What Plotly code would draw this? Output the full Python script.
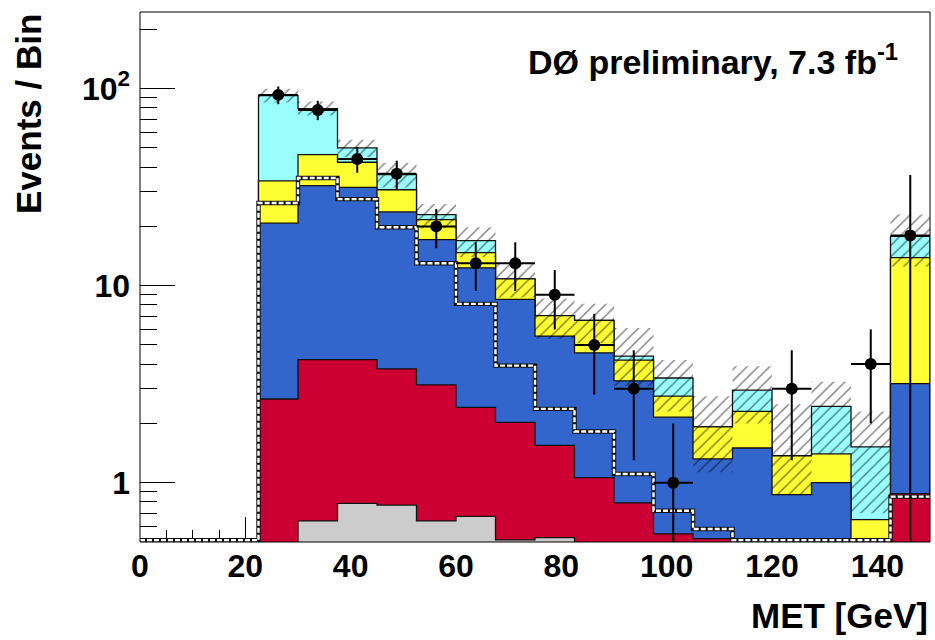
import math
import plotly.graph_objects as go

# ---------------- data ----------------
bin_edges = [22.5, 30, 37.5, 45, 52.5, 60, 67.5, 75, 82.5, 90, 97.5,
             105, 112.5, 120, 127.5, 135, 142.5, 150]
bin_centers = [26.25, 33.75, 41.25, 48.75, 56.25, 63.75, 71.25, 78.75, 86.25,
               93.75, 101.25, 108.75, 116.25, 123.75, 131.25, 138.75, 146.25]

# stacked background components (bottom -> top)
gray = [0, 0.64, 0.785, 0.77, 0.64, 0.674, 0.512, 0.526, 0, 0, 0, 0, 0, 0, 0, 0, 0]
red = [2.66, 3.57, 3.43, 3.01, 2.50, 1.74, 1.51, 1.02, 1.06, 0.79, 0.55, 0.52,
       0.40, 0.30, 0.30, 0.20, 0.88]
blue = [18.1, 28.0, 27.3, 19.9, 14.0, 9.9, 6.5, 4.0, 3.5, 2.5, 1.6, 0.8, 1.1,
        0.57, 0.70, 0.25, 2.3]
yellow = [13.3, 14.0, 10.8, 7.0, 4.5, 2.4, 2.3, 1.5, 2.1, 0.9, 0.6, 0.6, 0.8,
          0.5, 0.4, 0.2, 10.7]
cyan = [58.1, 33.0, 7.7, 5.9, 1.3, 2.2, 0.0, 0.0, 0.0, 0.2, 0.65, 0.0, 0.65,
        0.0, 1.04, 0.87, 3.9]

# uncertainty band on total background
band_hi = [100, 86, 55, 42, 26, 19.8, 12.9, 8.6, 8.1, 6.1, 4.2, 2.75, 3.9, 2.5,
           3.25, 2.3, 23]
band_lo = [85, 73, 45, 31.5, 19.5, 14, 8.7, 5.4, 5.1, 3.1, 2.3, 1.13, 2.0, 0.87,
           1.4, 0.7, 12.5]

# signal (dashed outline, not stacked); before first bin it is zero
signal = [26.3, 35.2, 27.5, 19.8, 13.0, 8.08, 3.93, 2.37, 1.82, 1.107, 0.721,
          0.582, 0.3, 0.3, 0.3, 0.3, 0.85]

# data
data = [93, 78, 44, 37, 20, 13, 13, 9, 5, 3, 1, 0, 0, 3, 0, 4, 18]
data_err_up = [9.6, 8.8, 6.6, 6.1, 4.5, 3.6, 3.6, 3.0, 2.2, 1.7, 1.0, 0, 0, 1.7,
               0, 2.0, 18.5]
data_err_dn = [9.6, 8.8, 6.6, 6.1, 4.5, 3.6, 3.6, 3.0, 2.2, 1.7, 0.99, 0, 0, 1.7,
               0, 2.0, 17.9]

x_ticks = [0, 20, 40, 60, 80, 100, 120, 140]
y_ticks = [1, 10, 100]
y_ticktext = ["1", "10", "10<sup>2</sup>"]
y_minor = [0.6, 0.7, 0.8, 0.9, 2, 3, 4, 5, 6, 7, 8, 9,
           20, 30, 40, 50, 60, 70, 80, 90, 200]

Y_MIN, Y_MAX = 0.5, 245.0
FLOOR = 1e-3

col_gray = "#cccccc"
col_red = "#cc0033"
col_blue = "#3366cc"
col_yellow = "#ffff33"
col_cyan = "#99ffff"

FONT = "Liberation Sans, Arial, Helvetica, sans-serif"


def step_polygon(vals):
    xs = [bin_edges[0]]
    ys = [FLOOR]
    for i, v in enumerate(vals):
        v = max(v, FLOOR)
        xs += [bin_edges[i], bin_edges[i + 1]]
        ys += [v, v]
    xs.append(bin_edges[-1])
    ys.append(FLOOR)
    return xs, ys


# cumulative stack levels
components = [(gray, col_gray), (red, col_red), (blue, col_blue),
              (yellow, col_yellow), (cyan, col_cyan)]
cum = []
running = [0.0] * len(bin_centers)
for vals, col in components:
    running = [a + b for a, b in zip(running, vals)]
    cum.append((list(running), col))

fig = go.Figure()

for level, col in reversed(cum):
    xs, ys = step_polygon(level)
    fig.add_trace(go.Scatter(
        x=xs, y=ys, mode="lines", fill="toself", fillcolor=col,
        line=dict(color="#111111", width=1.3), hoverinfo="skip", showlegend=False))

# hatched uncertainty band
hx, hy = [], []
for i in range(len(bin_centers)):
    x0, x1 = bin_edges[i], bin_edges[i + 1]
    lo, hi = band_lo[i], band_hi[i]
    hx += [x0, x1, x1, x0, x0, None]
    hy += [lo, lo, hi, hi, lo, None]
fig.add_trace(go.Scatter(
    x=hx, y=hy, mode="lines", fill="toself", fillcolor="rgba(0,0,0,0)",
    fillpattern=dict(shape="/", fgcolor="#000000", bgcolor="rgba(0,0,0,0)",
                     size=8, solidity=0.18, fillmode="overlay"),
    line=dict(width=0, color="rgba(0,0,0,0)"), hoverinfo="skip", showlegend=False))

# dashed signal outline
bottom = Y_MIN * 1.02
sx = [0, bin_edges[0]]
sy = [bottom, bottom]
for i, v in enumerate(signal):
    v = max(v, bottom)
    sx += [bin_edges[i], bin_edges[i + 1]]
    sy += [v, v]
fig.add_trace(go.Scatter(x=sx, y=sy, mode="lines",
                         line=dict(color="#111111", width=4.4),
                         hoverinfo="skip", showlegend=False))
fig.add_trace(go.Scatter(x=sx, y=sy, mode="lines",
                         line=dict(color="white", width=2.4, dash="5px,2px"),
                         hoverinfo="skip", showlegend=False))

# data points
dy = [d if d > 0 else None for d in data]
fig.add_trace(go.Scatter(
    x=bin_centers, y=dy, mode="markers",
    marker=dict(color="black", size=12, symbol="circle"),
    error_y=dict(type="data", array=data_err_up, arrayminus=data_err_dn,
                 symmetric=False, color="black", thickness=2, width=0),
    error_x=dict(type="constant", value=3.75, color="black", thickness=2, width=0),
    hoverinfo="skip", showlegend=False))

fig.update_layout(
    width=935, height=640,
    margin=dict(l=140, r=5, t=12, b=98),
    paper_bgcolor="white", plot_bgcolor="white",
    font=dict(family=FONT, color="black"),
    xaxis=dict(
        range=[0, 150], tickmode="array", tickvals=x_ticks,
        ticks="inside", ticklen=25, tickwidth=1, tickcolor="black",
        minor=dict(dtick=5, tick0=0, ticks="inside", ticklen=12,
                   tickwidth=1, tickcolor="black"),
        showgrid=False, zeroline=False, showline=False,
        layer="below traces", ticklabelstandoff=2,
        tickfont=dict(family=FONT, size=32, color="black", weight="bold"),
    ),
    yaxis=dict(
        type="log", range=[math.log10(Y_MIN), math.log10(Y_MAX)],
        tickmode="array", tickvals=y_ticks, ticktext=y_ticktext,
        ticks="inside", ticklen=35, tickwidth=1, tickcolor="black",
        minor=dict(tickmode="array", tickvals=y_minor, ticks="inside",
                   ticklen=17, tickwidth=1, tickcolor="black"),
        showgrid=False, zeroline=False, showline=False,
        layer="below traces", ticklabelstandoff=9,
        tickfont=dict(family=FONT, size=32, color="black", weight="bold"),
    ),
    shapes=[dict(type="rect", xref="paper", yref="paper", x0=0, x1=1, y0=0, y1=1,
                 line=dict(color="black", width=1), fillcolor="rgba(0,0,0,0)",
                 layer="above")],
    annotations=[
        dict(text="<b>DØ preliminary, 7.3 fb<sup>-1</sup></b>", xref="paper", yref="paper",
             x=(526 - 140) / 790, y=(542 - 60) / 530, xanchor="left", yanchor="middle",
             showarrow=False, font=dict(family=FONT, size=34, color="black")),
        dict(text="<b>MET [GeV]</b>", xref="paper", yref="paper",
             x=1.0, y=(542 - 615) / 530, xanchor="right", yanchor="middle",
             showarrow=False, font=dict(family=FONT, size=35, color="black")),
        dict(text="<b>Events / Bin</b>", xref="paper", yref="paper",
             x=(28 - 140) / 790, y=1.0, xanchor="center", yanchor="top",
             textangle=-90, showarrow=False,
             font=dict(family=FONT, size=35, color="black")),
    ],
)

fig.write_html("out.html")
